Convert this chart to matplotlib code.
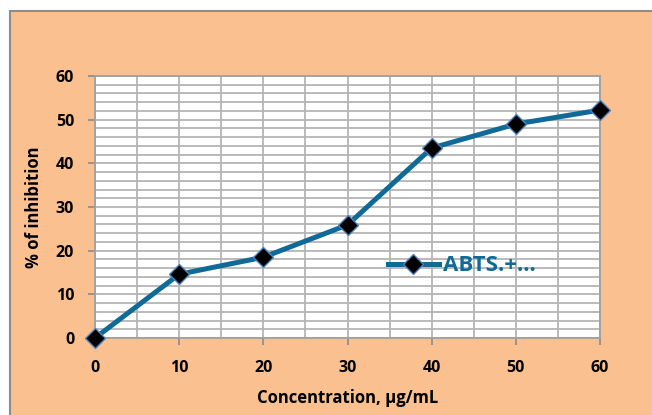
import matplotlib.pyplot as plt
from matplotlib.patches import Rectangle

# data
conc = [0, 10, 20, 30, 40, 50, 60]
inhibition = [0, 14.6, 18.5, 25.9, 43.5, 49.0, 52.2]
label = 'ABTS.+...'

line_col = '#106A98'
peach = '#FAC090'

plt.rcParams['font.family'] = ['Open Sans', 'DejaVu Sans']

fig = plt.figure(figsize=(6.52, 4.15), dpi=100, facecolor='white')
# peach chart area with grey border (image is cropped on right/bottom)
fig.patches.append(Rectangle((10 / 652, -0.01), 1.0, 1 - 11 / 415 + 0.01,
                             transform=fig.transFigure, facecolor=peach,
                             edgecolor='#8C8C8C', linewidth=1.5, zorder=-10))

ax = fig.add_axes([95 / 652, 1 - 338 / 415, 505 / 652, 262 / 415])
ax.set_facecolor('white')

ax.plot(conc, inhibition, color=line_col, linewidth=3.6, marker='D',
        markersize=10, markerfacecolor='black', markeredgecolor='#4F81BD',
        markeredgewidth=1.0, label=label, zorder=3, clip_on=False)

ax.set_xlim(0, 60)
ax.set_ylim(0, 60)
ax.set_xticks(range(0, 61, 10))
ax.set_yticks(range(0, 61, 10))
ax.set_xticks(range(0, 61, 5), minor=True)
ax.set_yticks(range(0, 61, 2), minor=True)
ax.grid(True, which='both', color='#B4B4B4', linewidth=1.3)
ax.set_axisbelow(True)

for s in ax.spines.values():
    s.set_color('#A0A0A0')
    s.set_linewidth(1.3)

ax.tick_params(axis='both', which='major', direction='out', length=5,
               width=1.3, color='#909090', labelsize=11.5)
ax.tick_params(axis='both', which='minor', length=0)
for t in ax.get_xticklabels() + ax.get_yticklabels():
    t.set_fontweight('bold')
ax.tick_params(axis='x', pad=11)
ax.tick_params(axis='y', pad=10)

ax.set_xlabel('Concentration, µg/mL', fontsize=12, fontweight='bold', labelpad=9)
ax.set_ylabel('% of inhibition', fontsize=12, fontweight='bold', labelpad=9)

leg = ax.legend(loc='center left', bbox_to_anchor=(0.54, 0.275), frameon=False,
                handlelength=2.3, handletextpad=0.2, prop={'size': 16, 'weight': 'bold'})
for t in leg.get_texts():
    t.set_color(line_col)

fig.savefig('out.png', dpi=100, facecolor=fig.get_facecolor())
